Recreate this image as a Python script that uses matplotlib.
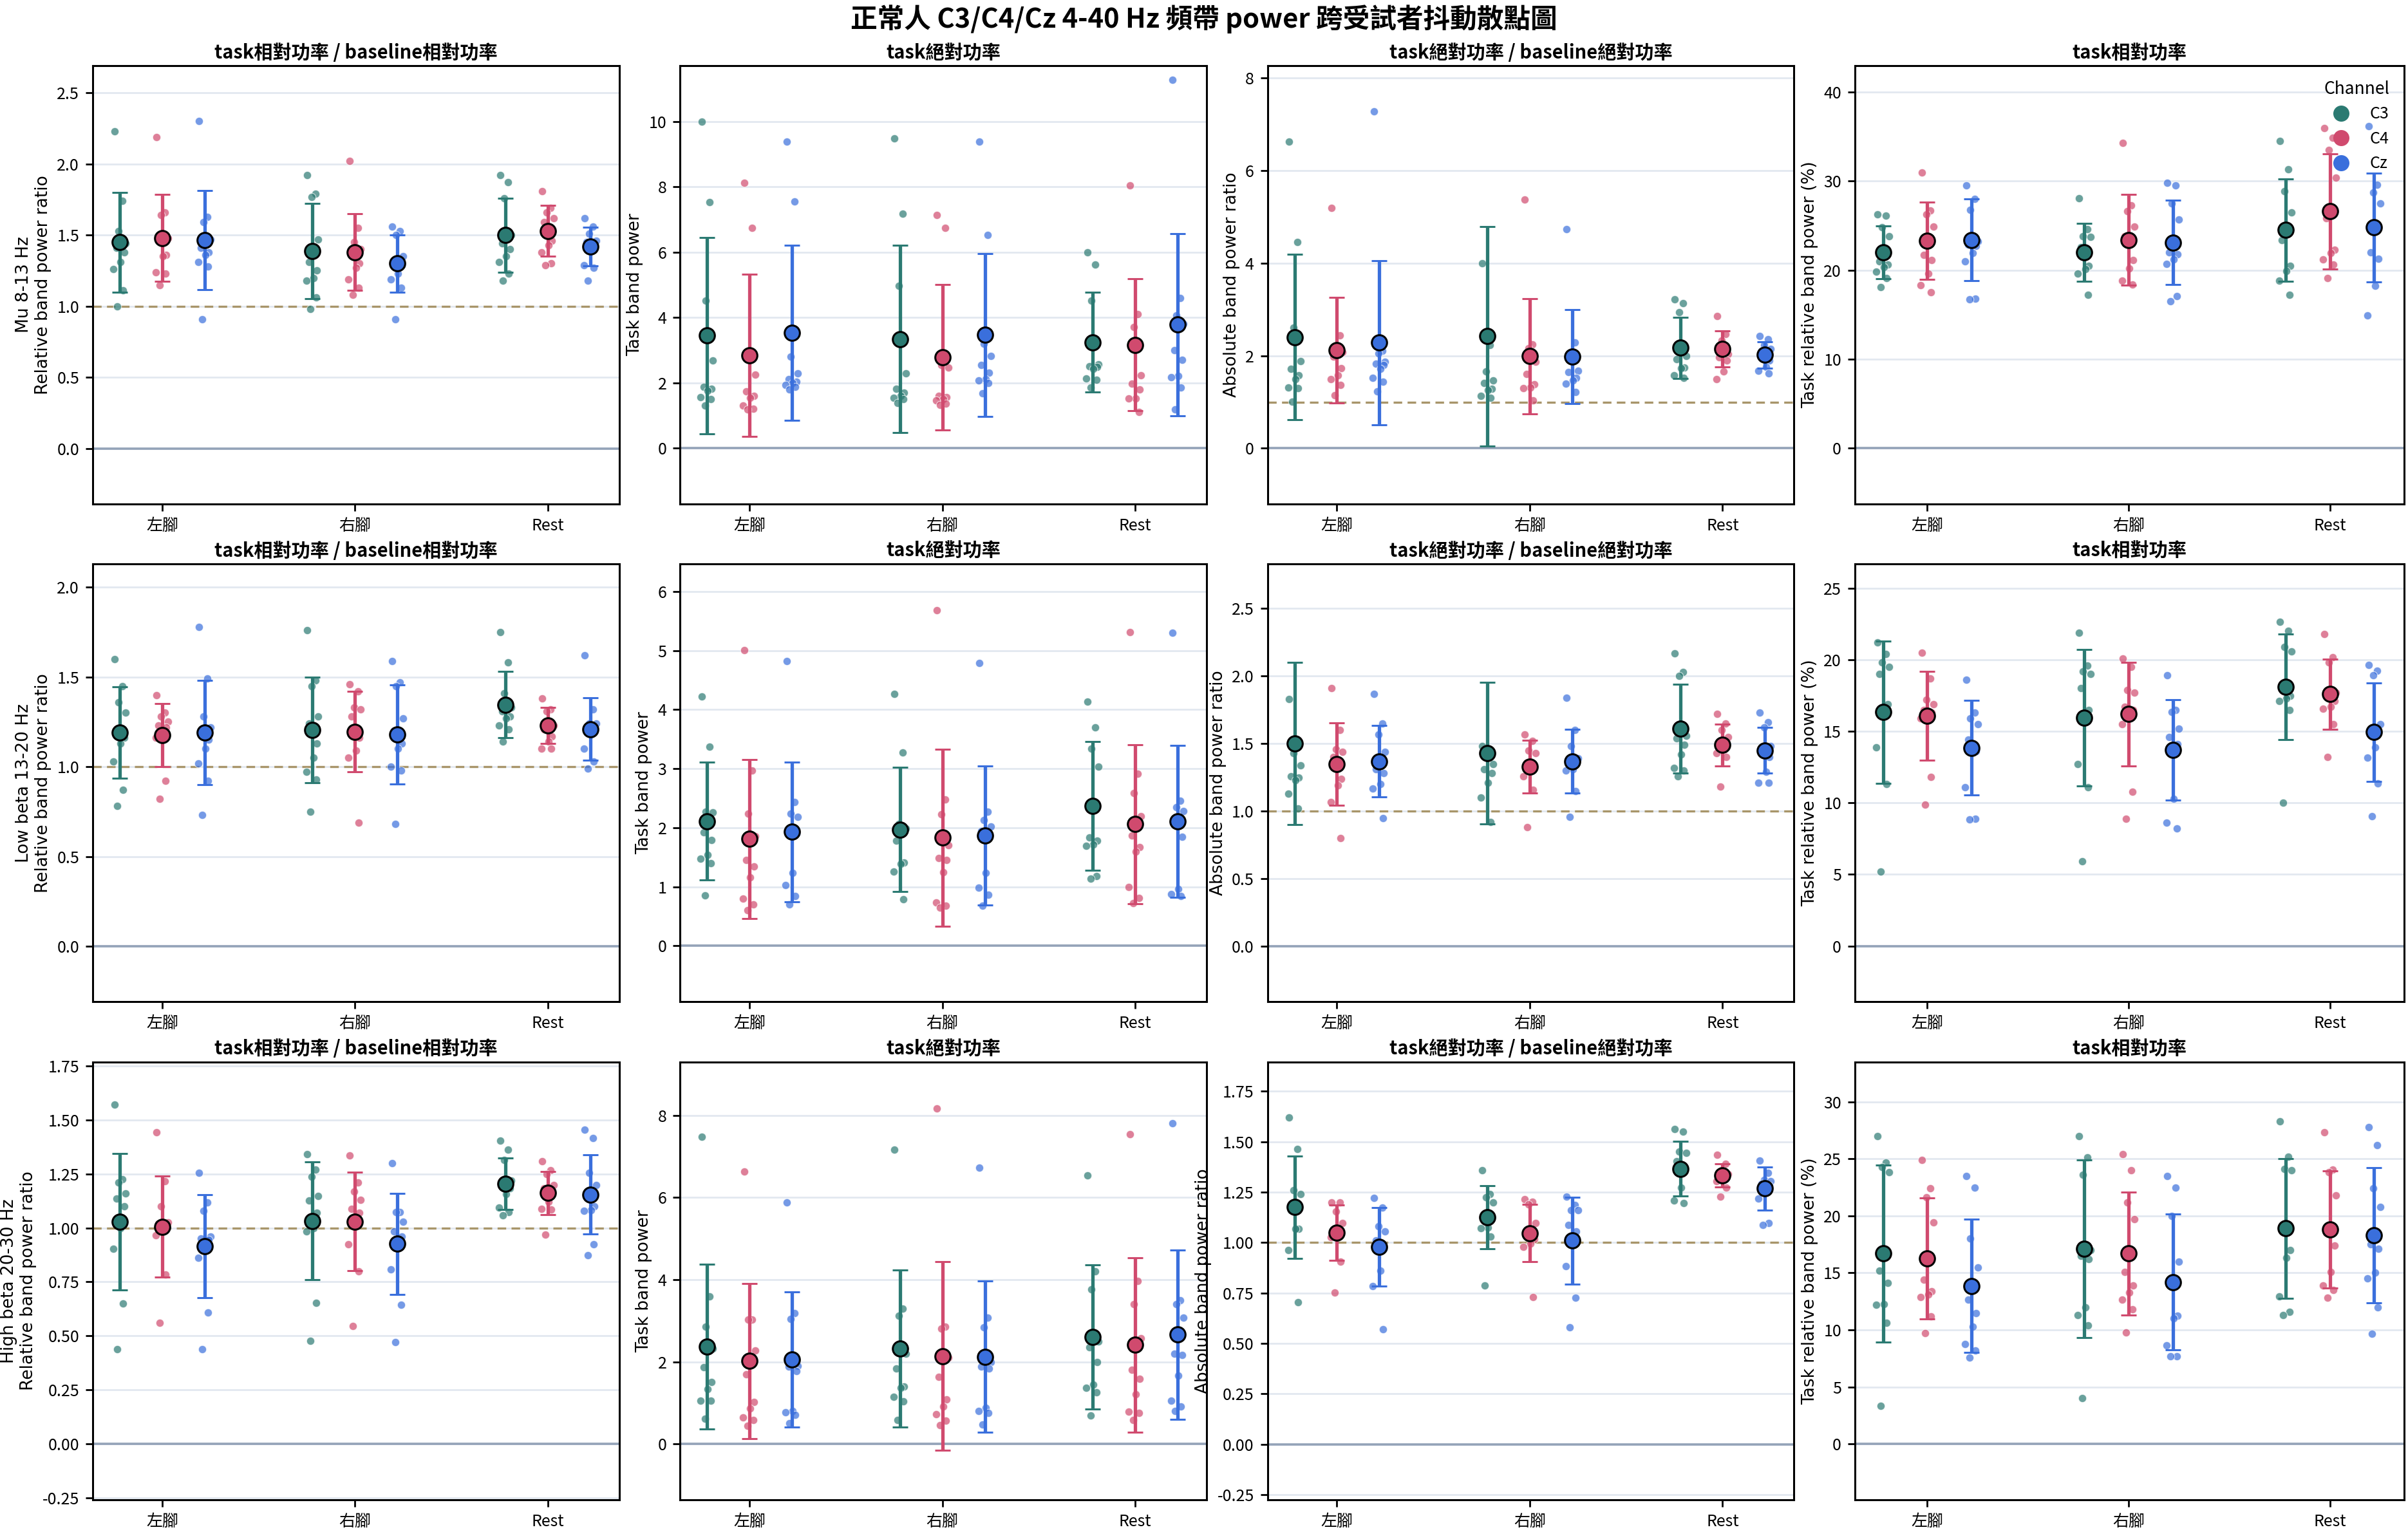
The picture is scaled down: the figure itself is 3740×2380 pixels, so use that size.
import matplotlib
matplotlib.use('Agg')
import matplotlib.pyplot as plt
from matplotlib.lines import Line2D

plt.rcParams['font.family'] = ['Noto Sans CJK TC', 'DejaVu Sans']
plt.rcParams['axes.unicode_minus'] = False

conditions = ['左腳', '右腳', 'Rest']
channels = ['C3', 'C4', 'Cz']
channel_colors = ['#2b7a72', '#d04a6e', '#3a6fdc']

band_labels = ['Mu 8-13 Hz', 'Low beta 13-20 Hz', 'High beta 20-30 Hz']
metric_titles = ['task相對功率 / baseline相對功率', 'task絕對功率',
                 'task絕對功率 / baseline絕對功率', 'task相對功率']
metric_ylabels = ['Relative band power ratio', 'Task band power',
                  'Absolute band power ratio', 'Task relative band power (%)']

# ---- Mu 8-13 Hz ----  [condition][channel] -> subject values
mu_rel_ratio_pts = [
    [[2.23, 1.74, 1.53, 1.44, 1.41, 1.38, 1.31, 1.26, 1.11, 1.00],
     [2.19, 1.66, 1.64, 1.48, 1.46, 1.36, 1.35, 1.24, 1.23, 1.15],
     [2.30, 1.63, 1.59, 1.47, 1.41, 1.38, 1.36, 1.31, 1.28, 0.91]],
    [[1.92, 1.79, 1.77, 1.47, 1.31, 1.25, 1.20, 1.18, 1.06, 0.98],
     [2.02, 1.55, 1.45, 1.40, 1.38, 1.30, 1.27, 1.19, 1.13, 1.08],
     [1.56, 1.53, 1.50, 1.35, 1.31, 1.29, 1.23, 1.19, 1.13, 0.91]],
    [[1.92, 1.87, 1.76, 1.50, 1.44, 1.40, 1.35, 1.31, 1.23, 1.18],
     [1.81, 1.69, 1.66, 1.62, 1.59, 1.46, 1.43, 1.38, 1.30, 1.29],
     [1.62, 1.56, 1.51, 1.46, 1.45, 1.42, 1.39, 1.29, 1.27, 1.18]],
]
mu_rel_ratio_mean = [[1.45, 1.48, 1.465], [1.39, 1.38, 1.30], [1.50, 1.53, 1.42]]
mu_rel_ratio_sd = [[0.35, 0.305, 0.35], [0.335, 0.27, 0.20], [0.26, 0.18, 0.135]]

mu_abs_pts = [
    [[10.0, 7.52, 4.51, 2.69, 1.87, 1.81, 1.75, 1.56, 1.49, 1.30],
     [8.12, 6.74, 2.71, 2.24, 1.73, 1.60, 1.54, 1.30, 1.21, 1.18],
     [9.39, 7.54, 2.80, 2.29, 2.10, 2.03, 2.00, 1.94, 1.88, 1.79]],
    [[9.48, 7.17, 4.97, 2.29, 1.81, 1.70, 1.60, 1.54, 1.49, 1.37],
     [7.13, 6.74, 2.54, 2.47, 1.60, 1.55, 1.49, 1.45, 1.35, 1.33],
     [9.39, 6.52, 3.20, 2.82, 2.54, 2.30, 2.11, 2.07, 2.00, 1.68]],
    [[6.00, 5.61, 4.52, 2.56, 2.51, 2.49, 2.42, 2.12, 2.08, 1.85],
     [8.04, 4.09, 3.70, 2.22, 1.97, 1.79, 1.52, 1.51, 1.11],
     [11.27, 4.59, 4.05, 3.81, 3.00, 2.70, 2.20, 2.17, 1.85, 1.18]],
]
mu_abs_mean = [[3.44, 2.84, 3.53], [3.34, 2.78, 3.46], [3.24, 3.16, 3.78]]
mu_abs_sd = [[3.0, 2.49, 2.685], [2.875, 2.23, 2.50], [1.535, 2.015, 2.79]]

mu_abs_ratio_pts = [
    [[6.63, 4.45, 2.60, 1.89, 1.71, 1.58, 1.50, 1.31, 1.30, 1.01],
     [5.19, 2.44, 2.19, 2.08, 1.98, 1.73, 1.58, 1.50, 1.37, 1.15],
     [7.28, 2.11, 2.05, 1.87, 1.83, 1.80, 1.72, 1.52, 1.44, 1.23]],
    [[3.99, 2.23, 1.66, 1.47, 1.41, 1.28, 1.26, 1.13, 1.09],
     [5.37, 2.24, 2.16, 1.87, 1.61, 1.38, 1.32, 1.30, 1.03],
     [4.74, 2.29, 1.91, 1.68, 1.65, 1.52, 1.47, 1.39, 1.21]],
    [[3.22, 3.13, 2.94, 1.99, 1.92, 1.74, 1.73, 1.58, 1.52],
     [2.85, 2.47, 2.33, 2.04, 1.96, 1.90, 1.66, 1.49],
     [2.42, 2.36, 2.23, 2.15, 2.10, 1.90, 1.76, 1.67, 1.62]],
]
mu_abs_ratio_mean = [[2.40, 2.12, 2.28], [2.42, 1.99, 1.98], [2.17, 2.15, 2.02]]
mu_abs_ratio_sd = [[1.785, 1.14, 1.77], [2.37, 1.245, 1.015], [0.66, 0.39, 0.285]]

mu_task_rel_pts = [
    [[26.3, 26.1, 24.8, 23.8, 21.0, 20.6, 20.3, 19.8, 19.1, 18.1],
     [31.0, 26.7, 26.3, 24.9, 21.7, 21.1, 19.6, 18.3, 17.5],
     [29.5, 28.0, 26.8, 23.2, 22.9, 22.7, 21.9, 21.0, 16.8, 16.7]],
    [[28.1, 24.6, 23.8, 23.7, 22.6, 20.5, 20.1, 19.6, 17.2],
     [34.3, 27.3, 26.6, 24.9, 23.8, 21.1, 20.2, 18.8, 18.4],
     [29.8, 29.5, 27.5, 25.7, 22.0, 21.8, 21.2, 20.7, 17.1, 16.5]],
    [[34.5, 31.3, 28.9, 26.5, 23.4, 20.5, 19.9, 18.8, 17.2],
     [36.0, 34.9, 33.5, 30.4, 25.8, 22.3, 21.9, 21.2, 20.6, 19.1],
     [36.2, 29.6, 28.7, 27.5, 22.0, 21.3, 18.2, 14.9]],
]
mu_task_rel_mean = [[22.0, 23.3, 23.4], [22.0, 23.4, 23.1], [24.5, 26.6, 24.8]]
mu_task_rel_sd = [[2.95, 4.35, 4.6], [3.25, 5.1, 4.75], [5.75, 6.5, 6.1]]

# ---- Low beta 13-20 Hz ----
lowb_rel_ratio_pts = [
    [[1.60, 1.45, 1.36, 1.30, 1.20, 1.16, 1.13, 1.03, 0.87, 0.78],
     [1.40, 1.30, 1.28, 1.25, 1.23, 1.22, 1.19, 1.16, 0.92, 0.82],
     [1.78, 1.49, 1.28, 1.22, 1.20, 1.15, 1.10, 1.02, 0.92, 0.73]],
    [[1.76, 1.48, 1.45, 1.28, 1.24, 1.13, 1.05, 0.97, 0.93, 0.75],
     [1.46, 1.42, 1.33, 1.32, 1.28, 1.16, 1.09, 1.05, 0.69],
     [1.59, 1.47, 1.45, 1.27, 1.20, 1.13, 1.10, 1.00, 0.98, 0.68]],
    [[1.75, 1.58, 1.41, 1.33, 1.31, 1.28, 1.27, 1.23, 1.21, 1.14],
     [1.38, 1.32, 1.31, 1.23, 1.21, 1.17, 1.14, 1.10, 1.10],
     [1.62, 1.32, 1.24, 1.24, 1.22, 1.21, 1.18, 1.10, 1.03, 0.99]],
]
lowb_rel_ratio_mean = [[1.19, 1.175, 1.19], [1.205, 1.195, 1.18], [1.345, 1.23, 1.21]]
lowb_rel_ratio_sd = [[0.255, 0.175, 0.29], [0.295, 0.225, 0.275], [0.185, 0.10, 0.175]]

lowb_abs_pts = [
    [[4.22, 3.37, 2.27, 2.26, 1.92, 1.79, 1.54, 1.47, 1.40, 0.85],
     [5.01, 2.97, 2.24, 1.86, 1.45, 1.34, 1.16, 0.80, 0.70, 0.60],
     [4.82, 2.43, 2.24, 2.18, 1.94, 1.90, 1.23, 1.03, 0.84, 0.70]],
    [[4.27, 3.27, 2.06, 1.99, 1.78, 1.41, 1.39, 1.26, 0.79],
     [5.68, 2.48, 2.23, 1.70, 1.49, 1.45, 1.25, 0.73, 0.68, 0.65],
     [4.79, 2.27, 2.13, 2.02, 1.94, 1.88, 1.23, 0.98, 0.86, 0.68]],
    [[4.14, 3.70, 3.34, 3.03, 1.84, 1.78, 1.72, 1.69, 1.18, 1.14],
     [5.31, 2.92, 2.59, 2.19, 1.87, 1.67, 1.60, 0.99, 0.81, 0.72],
     [5.30, 2.46, 2.35, 2.28, 2.08, 1.85, 0.96, 0.87, 0.84]],
]
lowb_abs_mean = [[2.11, 1.81, 1.93], [1.97, 1.83, 1.87], [2.37, 2.06, 2.11]]
lowb_abs_sd = [[1.0, 1.345, 1.185], [1.055, 1.495, 1.175], [1.09, 1.35, 1.285]]

lowb_abs_ratio_pts = [
    [[1.83, 1.50, 1.43, 1.34, 1.26, 1.25, 1.23, 1.13, 1.02],
     [1.91, 1.60, 1.46, 1.44, 1.40, 1.24, 1.19, 1.07, 0.80],
     [1.87, 1.65, 1.57, 1.44, 1.31, 1.28, 1.20, 1.17, 0.95]],
    [[1.48, 1.42, 1.40, 1.35, 1.31, 1.28, 1.21, 1.10, 0.92],
     [1.57, 1.52, 1.45, 1.43, 1.36, 1.32, 1.30, 1.26, 1.16, 0.88],
     [1.84, 1.60, 1.48, 1.39, 1.38, 1.35, 1.31, 1.30, 1.15, 0.96]],
    [[2.17, 2.03, 2.00, 1.56, 1.54, 1.49, 1.42, 1.32, 1.30, 1.26],
     [1.72, 1.65, 1.60, 1.55, 1.50, 1.48, 1.45, 1.43, 1.40, 1.18],
     [1.73, 1.66, 1.62, 1.48, 1.45, 1.40, 1.29, 1.21, 1.21]],
]
lowb_abs_ratio_mean = [[1.50, 1.35, 1.37], [1.43, 1.33, 1.37], [1.61, 1.49, 1.45]]
lowb_abs_ratio_sd = [[0.60, 0.305, 0.265], [0.525, 0.195, 0.235], [0.33, 0.155, 0.17]]

lowb_task_rel_pts = [
    [[21.2, 20.4, 19.8, 19.5, 19.0, 16.9, 16.4, 13.9, 11.3, 5.2],
     [20.5, 18.7, 17.2, 16.9, 16.5, 16.3, 16.0, 15.9, 11.8, 9.9],
     [18.6, 16.3, 15.9, 15.5, 14.4, 13.6, 13.5, 11.1, 8.9, 8.85]],
    [[21.9, 19.6, 19.2, 19.0, 18.0, 16.5, 15.9, 12.7, 11.1, 5.9],
     [20.1, 19.5, 17.9, 17.7, 16.7, 16.5, 16.2, 15.5, 10.8, 8.9],
     [18.9, 16.5, 16.35, 15.2, 14.6, 14.1, 10.3, 8.6, 8.2]],
    [[22.65, 22.0, 20.9, 20.6, 18.0, 17.5, 17.3, 17.1, 16.5, 10.0],
     [21.8, 20.2, 19.8, 17.7, 17.5, 17.1, 16.7, 16.6, 15.5, 13.2],
     [19.65, 19.25, 18.9, 15.5, 14.95, 14.9, 13.9, 13.15, 11.35, 9.05]],
]
lowb_task_rel_mean = [[16.35, 16.1, 13.85], [15.95, 16.2, 13.7], [18.1, 17.6, 14.95]]
lowb_task_rel_sd = [[4.97, 3.1, 3.3], [4.75, 3.625, 3.525], [3.7, 2.45, 3.45]]

# ---- High beta 20-30 Hz ----
highb_rel_ratio_pts = [
    [[1.573, 1.227, 1.21, 1.16, 1.137, 1.10, 1.00, 0.905, 0.65, 0.437],
     [1.445, 1.217, 1.10, 1.025, 1.02, 1.00, 0.985, 0.965, 0.783, 0.56],
     [1.257, 1.118, 1.08, 0.96, 0.95, 0.945, 0.93, 0.862, 0.607, 0.438]],
    [[1.343, 1.272, 1.237, 1.147, 1.128, 1.072, 1.00, 0.984, 0.652, 0.477],
     [1.335, 1.21, 1.168, 1.13, 1.09, 1.07, 1.04, 0.925, 0.80, 0.546],
     [1.30, 1.075, 1.075, 1.028, 0.984, 0.96, 0.92, 0.807, 0.645, 0.47]],
    [[1.405, 1.364, 1.314, 1.22, 1.20, 1.185, 1.157, 1.095, 1.074, 1.06],
     [1.308, 1.268, 1.25, 1.20, 1.185, 1.16, 1.12, 1.09, 1.087, 0.97],
     [1.455, 1.416, 1.257, 1.20, 1.155, 1.10, 1.082, 1.08, 0.925, 0.873]],
]
highb_rel_ratio_mean = [[1.03, 1.006, 0.915], [1.033, 1.03, 0.926], [1.205, 1.163, 1.155]]
highb_rel_ratio_sd = [[0.316, 0.234, 0.2385], [0.274, 0.2275, 0.2345], [0.12, 0.10, 0.184]]

highb_abs_pts = [
    [[7.48, 3.59, 2.86, 2.32, 1.87, 1.50, 1.34, 1.06, 1.05, 0.61],
     [6.63, 3.02, 3.02, 2.27, 1.69, 1.02, 0.87, 0.65, 0.58, 0.44],
     [5.88, 3.19, 3.05, 1.90, 1.88, 1.78, 0.81, 0.77, 0.71, 0.50]],
    [[7.17, 3.29, 3.12, 2.20, 1.83, 1.40, 1.37, 1.15, 1.03, 0.58],
     [8.17, 2.86, 2.80, 2.10, 1.64, 1.09, 0.91, 0.73, 0.57, 0.46],
     [6.73, 3.08, 2.84, 2.00, 1.88, 1.84, 0.875, 0.81, 0.76, 0.48]],
    [[6.54, 4.20, 3.77, 2.50, 2.35, 2.00, 1.45, 1.36, 1.26, 0.70],
     [7.54, 3.97, 3.41, 2.57, 1.81, 1.59, 1.21, 0.79, 0.76, 0.58],
     [7.80, 3.49, 3.41, 3.08, 2.19, 2.16, 1.66, 1.06, 0.91, 0.80]],
]
highb_abs_mean = [[2.37, 2.02, 2.05], [2.32, 2.14, 2.125], [2.60, 2.41, 2.66]]
highb_abs_sd = [[2.0, 1.885, 1.645], [1.91, 2.295, 1.84], [1.755, 2.125, 2.06]]

highb_abs_ratio_pts = [
    [[1.62, 1.463, 1.258, 1.24, 1.16, 1.067, 1.067, 0.963, 0.705],
     [1.20, 1.198, 1.153, 1.097, 1.06, 1.057, 1.046, 1.027, 0.906, 0.753],
     [1.22, 1.172, 1.08, 1.056, 1.01, 0.968, 0.861, 0.785, 0.57]],
    [[1.358, 1.24, 1.223, 1.20, 1.137, 1.12, 1.075, 1.07, 1.03, 0.788],
     [1.215, 1.202, 1.19, 1.097, 1.05, 1.017, 0.995, 0.98, 0.73],
     [1.229, 1.186, 1.162, 1.16, 1.088, 1.054, 1.03, 0.884, 0.725, 0.581]],
    [[1.562, 1.55, 1.45, 1.445, 1.404, 1.352, 1.272, 1.207, 1.195],
     [1.436, 1.389, 1.36, 1.34, 1.34, 1.33, 1.32, 1.303, 1.272, 1.228],
     [1.405, 1.346, 1.309, 1.305, 1.29, 1.282, 1.27, 1.217, 1.097, 1.088]],
]
highb_abs_ratio_mean = [[1.175, 1.049, 0.979], [1.126, 1.047, 1.01], [1.366, 1.333, 1.268]]
highb_abs_ratio_sd = [[0.254, 0.1365, 0.194], [0.156, 0.143, 0.215], [0.1355, 0.0565, 0.106]]

highb_task_rel_pts = [
    [[27.0, 24.7, 24.3, 23.8, 15.2, 14.1, 12.25, 12.2, 10.6, 3.35],
     [24.9, 22.4, 21.6, 19.4, 14.4, 13.4, 13.1, 12.9, 11.2, 9.7],
     [23.5, 22.5, 18.0, 15.5, 12.65, 11.45, 10.3, 8.75, 8.2, 7.6]],
    [[27.0, 25.1, 23.6, 17.0, 16.5, 16.2, 12.0, 11.3, 10.4, 4.0],
     [25.4, 24.0, 21.2, 19.7, 15.1, 13.9, 13.3, 12.65, 11.8, 9.8],
     [23.5, 22.5, 20.0, 16.0, 14.05, 11.25, 11.0, 8.65, 7.7, 7.7]],
    [[28.3, 25.2, 24.1, 24.0, 18.9, 17.0, 16.3, 12.95, 11.6, 11.3],
     [27.3, 24.05, 23.8, 21.8, 18.5, 17.4, 15.1, 13.9, 13.5, 12.8],
     [27.8, 26.2, 22.4, 20.8, 17.5, 17.1, 15.0, 14.5, 12.0, 9.65]],
]
highb_task_rel_mean = [[16.7, 16.25, 13.85], [17.1, 16.7, 14.2], [18.9, 18.8, 18.3]]
highb_task_rel_sd = [[7.75, 5.3, 5.85], [7.8, 5.4, 5.975], [6.125, 5.125, 5.95]]

panels = [
    [(mu_rel_ratio_pts, mu_rel_ratio_mean, mu_rel_ratio_sd),
     (mu_abs_pts, mu_abs_mean, mu_abs_sd),
     (mu_abs_ratio_pts, mu_abs_ratio_mean, mu_abs_ratio_sd),
     (mu_task_rel_pts, mu_task_rel_mean, mu_task_rel_sd)],
    [(lowb_rel_ratio_pts, lowb_rel_ratio_mean, lowb_rel_ratio_sd),
     (lowb_abs_pts, lowb_abs_mean, lowb_abs_sd),
     (lowb_abs_ratio_pts, lowb_abs_ratio_mean, lowb_abs_ratio_sd),
     (lowb_task_rel_pts, lowb_task_rel_mean, lowb_task_rel_sd)],
    [(highb_rel_ratio_pts, highb_rel_ratio_mean, highb_rel_ratio_sd),
     (highb_abs_pts, highb_abs_mean, highb_abs_sd),
     (highb_abs_ratio_pts, highb_abs_ratio_mean, highb_abs_ratio_sd),
     (highb_task_rel_pts, highb_task_rel_mean, highb_task_rel_sd)],
]

# axis ranges
ylims = [
    [(-0.39, 2.69), (-1.71, 11.7), (-1.2, 8.26), (-6.28, 42.96)],
    [(-0.31, 2.13), (-0.95, 6.47), (-0.41, 2.83), (-3.9, 26.7)],
    [(-0.26, 1.77), (-1.36, 9.3), (-0.276, 1.896), (-4.9, 33.5)],
]

offsets = [-0.22, 0.0, 0.22]
# fixed jitter pattern for the subject dots
jitter = [-0.028, 0.014, -0.006, 0.030, -0.018, 0.022, 0.004, -0.033, 0.018, -0.012]

fig, axes = plt.subplots(3, 4, figsize=(18.7, 11.9), dpi=200,
                         gridspec_kw={'width_ratios': [343, 343, 343, 358]})
fig.subplots_adjust(left=0.0385, right=0.9985, bottom=0.021, top=0.957,
                    wspace=0.1145, hspace=0.137)

for r in range(3):
    for c in range(4):
        ax = axes[r][c]
        pts, mean, sd = panels[r][c]
        ax.set_axisbelow(True)
        ax.yaxis.grid(True, color='#e2e8f0', lw=1.0)
        ax.axhline(0, color='#94a3b8', lw=1.3, zorder=1)
        if c in (0, 2):
            ax.axhline(1.0, color='#a8956a', lw=1.2, ls=(0, (4, 2.5)), zorder=1)
        for ci in range(len(conditions)):
            for ki in range(len(channels)):
                vals = pts[ci][ki]
                xc = ci + offsets[ki]
                xs = [xc + jitter[j % len(jitter)] for j in range(len(vals))]
                ax.scatter(xs, vals, s=20, color=channel_colors[ki], alpha=0.7,
                           edgecolors='white', linewidths=0.4, zorder=2)
                ax.errorbar(xc, mean[ci][ki], yerr=sd[ci][ki], fmt='o', ms=8.5,
                            mfc=channel_colors[ki], mec='black', mew=1.1,
                            ecolor=channel_colors[ki], elinewidth=1.9,
                            capsize=4.2, capthick=1.9, zorder=3)
        ax.set_xlim(-0.36, 2.37)
        ax.set_ylim(*ylims[r][c])
        ax.set_xticks(range(len(conditions)))
        ax.set_xticklabels(conditions)
        ax.tick_params(labelsize=9, length=4, width=1.0)
        for s in ax.spines.values():
            s.set_linewidth(1.1)
        ax.set_title(metric_titles[c], fontsize=10.5, fontweight='bold', pad=4)
        if c == 0:
            ylab = band_labels[r] + '\n' + metric_ylabels[c]
        else:
            ylab = metric_ylabels[c]
        ax.set_ylabel(ylab, fontsize=9.5, family='DejaVu Sans', labelpad=3)

handles = [Line2D([0], [0], marker='o', ls='none', ms=8, mfc=col, mec=col)
           for col in channel_colors]
axes[0][3].legend(handles, channels, title='Channel', loc='upper right',
                  frameon=False, fontsize=9, title_fontsize=9.5,
                  handletextpad=0.8, labelspacing=0.5)

fig.suptitle('正常人 C3/C4/Cz 4-40 Hz 頻帶 power 跨受試者抖動散點圖',
             fontsize=15, fontweight='bold', y=0.997)

fig.savefig('out.png', dpi=200)
